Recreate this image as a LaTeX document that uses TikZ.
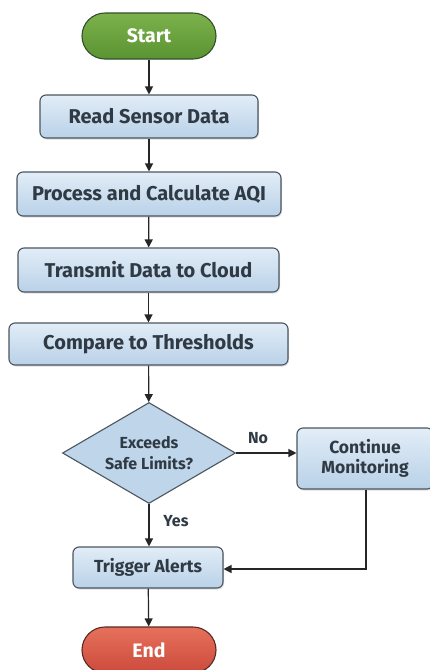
\documentclass[tikz,border=0pt]{standalone}
\usepackage{fontspec}
\setmainfont{Fira Sans}
\usetikzlibrary{arrows.meta,shapes.geometric,shadows}
\definecolor{boxtop}{HTML}{E2EDF7}
\definecolor{boxbot}{HTML}{B9D1E8}
\definecolor{edge}{HTML}{4B5560}
\definecolor{txt}{HTML}{2F3A44}
\definecolor{gtop}{HTML}{7CB24C}
\definecolor{gbot}{HTML}{5A9332}
\definecolor{gedge}{HTML}{33502A}
\definecolor{rtop}{HTML}{E6715B}
\definecolor{rbot}{HTML}{CC4A3C}
\definecolor{redge}{HTML}{5A2A24}
\definecolor{dia}{HTML}{BFD5EA}
\tikzset{
  procbox/.style={draw=edge, line width=1.1pt, rounded corners=6pt, top color=boxtop, bottom color=boxbot,
    text=txt, font=\bfseries\fontsize{20}{22}\selectfont, inner sep=0pt, align=center,
    drop shadow={shadow xshift=1pt, shadow yshift=-1.5pt, opacity=0.25}},
  termgreen/.style={draw=gedge, line width=1.1pt, rounded corners=23pt, top color=gtop, bottom color=gbot,
    text=white, font=\bfseries\fontsize{19.5}{21}\selectfont, inner sep=0pt,
    minimum width=134pt, minimum height=46pt},
  termred/.style={draw=redge, line width=1.1pt, rounded corners=23pt, top color=rtop, bottom color=rbot,
    text=white, font=\bfseries\fontsize{19.5}{21}\selectfont, inner sep=0pt,
    minimum width=134pt, minimum height=46pt},
  decision/.style={draw=edge, line width=1.1pt, diamond, fill=dia, aspect=1.72, inner sep=0pt,
    minimum width=173pt, minimum height=101pt, text=txt, align=center,
    font=\bfseries\fontsize{16}{21}\selectfont},
  flow/.style={line width=1.2pt, draw=black!85, -{Triangle[length=8pt,width=8pt]}},
  lbl/.style={text=txt, font=\bfseries\fontsize{16}{18}\selectfont}
}
\begin{document}
\begin{tikzpicture}[x=1pt,y=-1pt]
\useasboundingbox[fill=white] (0,0) rectangle (429,670);
\node[termgreen] (start) at (149,36) {Start};
\node[procbox, minimum width=218pt, minimum height=43pt] (read) at (149,116.5) {Read Sensor Data};
\node[procbox, minimum width=264pt, minimum height=44pt] (proc) at (149,194) {Process and Calculate AQI};
\node[procbox, minimum width=261pt, minimum height=44pt] (trans) at (148.5,270) {Transmit Data to Cloud};
\node[procbox, minimum width=279pt, minimum height=42pt] (comp) at (148.5,344) {Compare to Thresholds};
\node[decision] (dec) at (149,453) {Exceeds\\Safe Limits?};
\node[procbox, minimum width=136pt, minimum height=61pt, font=\bfseries\fontsize{17.5}{20}\selectfont] (cont) at (365,458.5) {Continue\\Monitoring};
\node[procbox, minimum width=150pt, minimum height=41pt, font=\bfseries\fontsize{17.5}{20}\selectfont] (trig) at (148,567.5) {Trigger Alerts};
\node[termred] (end) at (149,650) {End};
\draw[flow] (start) -- (read);
\draw[flow] (read) -- (proc);
\draw[flow] (proc) -- (trans);
\draw[flow] (trans) -- (comp);
\draw[flow] (comp) -- (dec);
\draw[flow] (dec.east) -- (cont.west |- dec.east);
\node[lbl] (no) at (258,438) {No};
\draw[flow] (dec.south) -- (dec.south |- trig.north);
\node[lbl] (yes) at (176,521) {Yes};
\coordinate (corner) at (366,569);
\draw[flow] (cont.south -| corner) -- (corner) -- (corner -| trig.east);
\draw[flow] (trig) -- (end);
\end{tikzpicture}
\end{document}
